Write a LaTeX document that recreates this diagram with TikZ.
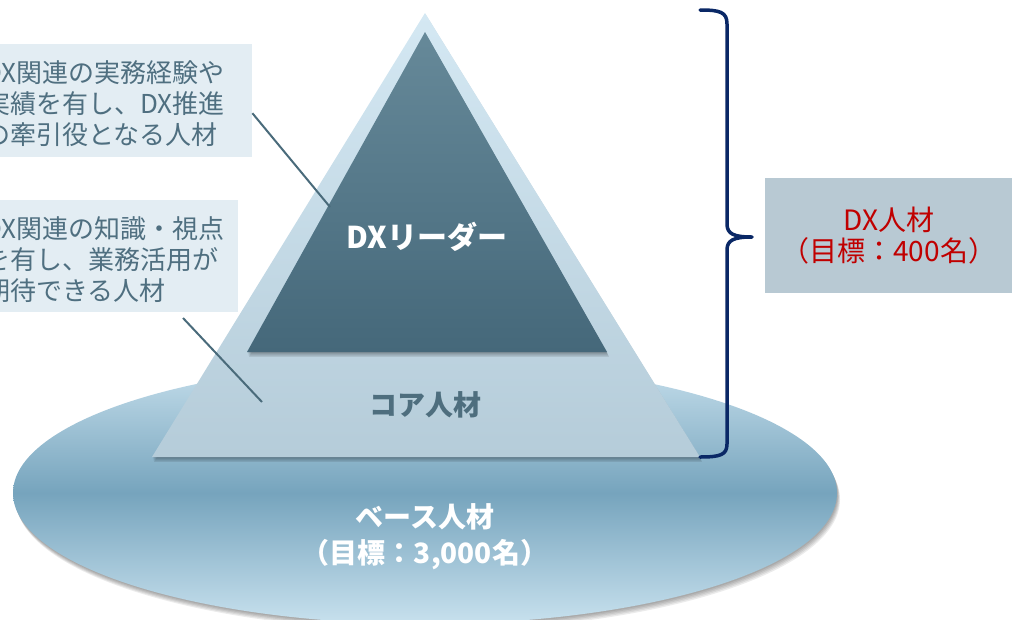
\documentclass[tikz,border=0pt]{standalone}
\usepackage{fontspec}
\setmainfont{Noto Sans CJK JP}
\definecolor{ellTop}{HTML}{C6DFEC}
\definecolor{ellMid}{HTML}{76A4BD}
\definecolor{ellBot}{HTML}{C8E1EE}
\definecolor{outTop}{HTML}{D4E8F3}
\definecolor{outBot}{HTML}{B5CCD9}
\definecolor{inTop}{HTML}{668999}
\definecolor{inBot}{HTML}{45687A}
\definecolor{boxFill}{HTML}{E3EDF3}
\definecolor{boxText}{HTML}{4F6F80}
\definecolor{leaderCol}{HTML}{4A6B7B}
\definecolor{braceCol}{HTML}{0A2866}
\definecolor{dxFill}{HTML}{B8C9D3}
\definecolor{dxRed}{HTML}{C00000}
\definecolor{coreText}{HTML}{4E6E7E}
\tikzset{
  leftbox/.style={fill=boxFill, anchor=north west, inner sep=0pt},
  lefttext/.style={anchor=west, align=left, text=boxText, inner sep=0pt, font=\fontsize{26}{31}\selectfont},
  leader/.style={draw=leaderCol, line width=2pt},
  shadowfill/.style={fill=black, opacity=0.07},
}
\begin{document}
\begin{tikzpicture}[x=1pt,y=-1pt]
\useasboundingbox (0,0) rectangle (1012,619);
\begin{scope}
\clip (0,0) rectangle (1012,619);
% ellipse shadow
\foreach \i in {1,...,5}
  \fill[shadowfill, opacity=0.08] (425+0.6*\i,493+1.3*\i) ellipse [x radius=412, y radius=131];
\shade[top color=ellTop, bottom color=ellBot, middle color=ellMid]
  (425,493) ellipse [x radius=412, y radius=131];
% outer triangle shadow
\foreach \i in {1,...,4}
  \fill[shadowfill, opacity=0.09] (425+0.5*\i,13+1.2*\i) -- (700+0.5*\i,457+1.2*\i) -- (152+0.5*\i,457+1.2*\i) -- cycle;
\shade[top color=outTop, bottom color=outBot] (425,13) -- (700,457) -- (152,457) -- cycle;
% inner triangle shadow
\foreach \i in {1,...,4}
  \fill[shadowfill, opacity=0.09] (425+0.5*\i,32+1.2*\i) -- (607+0.5*\i,352+1.2*\i) -- (247+0.5*\i,352+1.2*\i) -- cycle;
\shade[top color=inTop, bottom color=inBot] (425,32) -- (607,352) -- (247,352) -- cycle;
% left boxes
\node[leftbox, minimum width=282pt, minimum height=113pt] (b1) at (-30,44) {};
\node[lefttext] (t1) at (-16,104) {DX関連の実務経験や\\実績を有し、DX推進\\の牽引役となる人材};
\node[leftbox, minimum width=268pt, minimum height=112pt] (b2) at (-30,200) {};
\node[lefttext] (t2) at (-16,260) {DX関連の知識・視点\\を有し、業務活用が\\期待できる人材};
\coordinate (l1b) at (330,207);
\coordinate (l2a) at (183,318);
\coordinate (l2b) at (262,402);
\draw[leader] ([yshift=-12.5pt]b1.east) -- (l1b);
\draw[leader] (l2a) -- (l2b);
% labels
\node[text=white, font=\bfseries\fontsize{30}{36}\selectfont] (lead) at (427,237) {DXリーダー};
\node[text=coreText, font=\bfseries\fontsize{28}{32}\selectfont] (core) at (425,405) {コア人材};
\node[text=white, align=center, font=\bfseries\fontsize{28}{36}\selectfont] (base) at (425,537)
  {ベース人材\\（目標：3,000名）};
% brace
\draw[braceCol, line width=3.5pt, line cap=round, line join=round]
  (700,10) .. controls (720,10) and (727,12) .. (727,24) -- (727,224)
  .. controls (727,234) and (734,237) .. (752,237)
  .. controls (734,237) and (727,240) .. (727,250) -- (727,444)
  .. controls (727,455) and (720,457) .. (700,457);
% DX box
\node[fill=dxFill, anchor=north west, minimum width=247pt, minimum height=115pt, inner sep=0pt] (dxbox) at (765,178) {};
\node[text=dxRed, align=center, font=\fontsize{28}{31}\selectfont] (dxtext) at (dxbox.center) {DX人材\\（目標：400名）};
\end{scope}
\end{tikzpicture}
\end{document}
